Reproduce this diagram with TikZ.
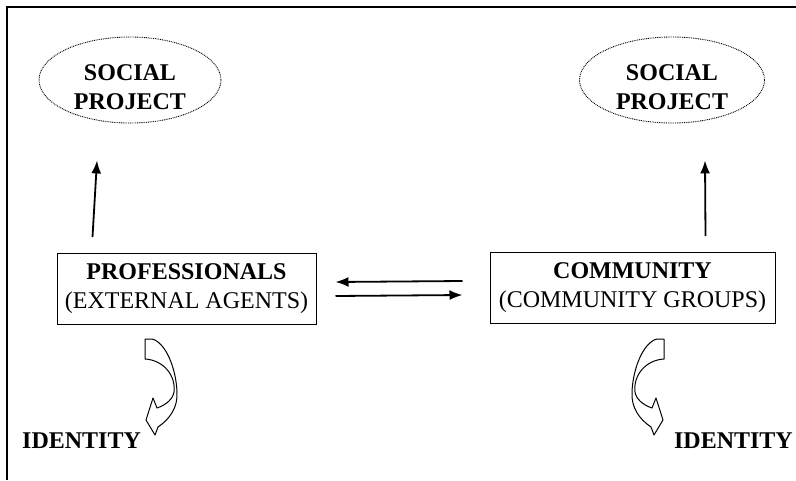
\documentclass[tikz,border=0pt]{standalone}
\usepackage{fontspec}
\setmainfont{Liberation Serif}
\usepackage{tikz}
\usetikzlibrary{shapes,arrows.meta}
\usetikzlibrary{calc}

\newcommand{\idarrow}{(7,0) -- (0,0) -- (0,20) .. controls (18,21) and (31,36) .. (29,53) .. controls (28,60) and (21,66) .. (12,69) -- (8,59) -- (1,81) -- (10,96) -- (13,88) .. controls (25,80) and (33,68) .. (32,53) .. controls (31,28) and (20,3) .. (7,0) -- cycle}

\begin{document}
\begin{tikzpicture}[x=1pt,y=-1pt]

		\tikzstyle{project} = [ellipse, draw, line width=0.9pt, dash pattern=on 0.9pt off 0.9pt, inner sep=0pt, minimum height=86pt, align=center, font=\bfseries]
		\tikzstyle{agent}   = [rectangle, draw, line width=1pt, inner sep=0pt, minimum height=71pt, align=center]
		\tikzstyle{flow}    = [line width=1.8pt, -{Latex[length=13pt,width=10pt]}]
		\tikzstyle{curvy}   = [line width=1pt, line join=round]
		\useasboundingbox (0,0) rectangle (796,480);
		\fontsize{24}{29}\selectfont
		\draw [line width=1.3pt] (7,480) -- (7,7) -- (796,7);

		\node [project, minimum width=182pt](projL) at (130,80) {\rule{0pt}{30pt}SOCIAL\\PROJECT};
		\node [project, minimum width=185pt](projR) at (672,80) {\rule{0pt}{30pt}SOCIAL\\PROJECT};
		\node [agent, minimum width=259pt](prof) at (186.5,289) {\textbf{PROFESSIONALS}\\(EXTERNAL AGENTS)};
		\node [agent, minimum width=285pt](comm) at (632.5,288) {\textbf{COMMUNITY}\\(COMMUNITY GROUPS)};
		\node [anchor=base west, inner sep=0pt, font=\bfseries](idL) at (22,448) {IDENTITY};
		\node [anchor=base east, inner sep=0pt, font=\bfseries](idR) at (793,448) {IDENTITY};

		\draw [flow] ($(prof.north west)+(36,-16)$) -- ($(projL.south)+(-33,37)$);
		\draw [flow] ($(comm.north east)+(-70,-16)$) -- ($(projR.south)+(33,37)$);
		\draw [flow] ([xshift=-27pt,yshift=7pt]comm.west) -- ([xshift=19pt,yshift=7pt]prof.east);
		\draw [flow] ([xshift=19pt,yshift=-7pt]prof.east) -- ([xshift=-27pt,yshift=-7pt]comm.west);

		\draw [curvy, shift={(145,339)}] \idarrow;
		\draw [curvy, shift={(664,339)}, xscale=-1] \idarrow;

	\end{tikzpicture}
\end{document}
